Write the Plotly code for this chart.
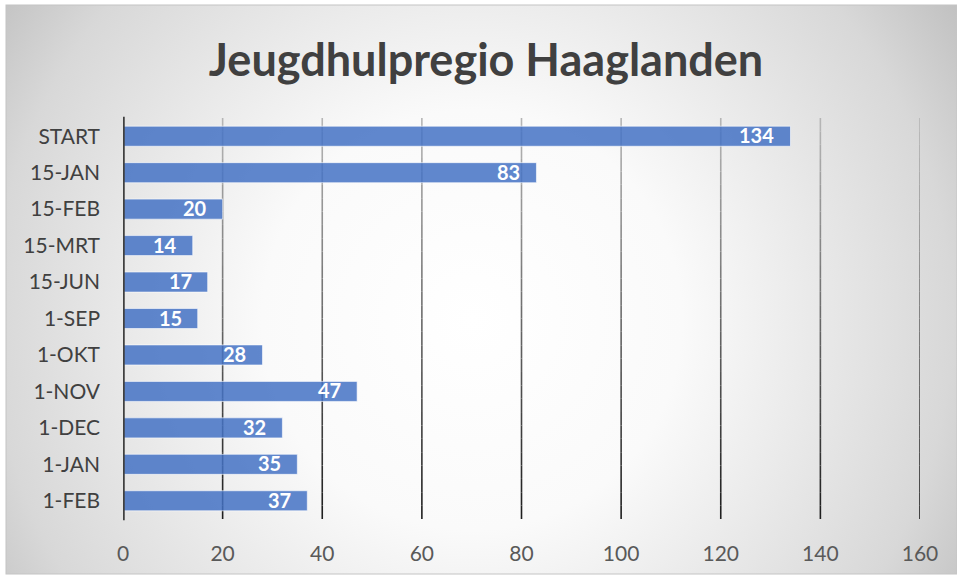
import base64
import plotly.graph_objects as go

categories = ["START", "15-JAN", "15-FEB", "15-MRT", "15-JUN", "1-SEP",
              "1-OKT", "1-NOV", "1-DEC", "1-JAN", "1-FEB"]
values = [134, 83, 20, 14, 17, 15, 28, 47, 32, 35, 37]
x_ticks = [0, 20, 40, 60, 80, 100, 120, 140, 160]
title_text = "Jeugdhulpregio Haaglanden"

W, H = 957, 578
ML, MR, MT, MB = 123, 37, 118, 59
PW, PH = W - ML - MR, H - MT - MB
FONT = "Lato, 'Open Sans', sans-serif"

svg = f'''<svg xmlns="http://www.w3.org/2000/svg" width="{W}" height="{H}" viewBox="0 0 {W} {H}">
<defs><radialGradient id="g" cx="472" cy="320" r="600" gradientUnits="userSpaceOnUse">
<stop offset="0" stop-color="#ffffff"/><stop offset="0.35" stop-color="#fafafa"/>
<stop offset="0.8" stop-color="#d8d8d8"/><stop offset="1" stop-color="#bcbcbc"/>
</radialGradient></defs>
<rect x="0" y="0" width="{W}" height="{H}" fill="#ffffff"/>
<rect x="6" y="5" width="{W-6}" height="{H-9}" fill="url(#g)" stroke="#c4c4c4" stroke-width="1"/>
</svg>'''
bg_uri = "data:image/svg+xml;base64," + base64.b64encode(svg.encode()).decode()

fig = go.Figure()
fig.add_trace(go.Bar(
    y=categories, x=values, orientation="h",
    marker=dict(color="rgba(68,114,196,0.85)", line=dict(color="rgba(255,255,255,0.6)", width=1)),
    textposition="none", hoverinfo="x+y",
))

annotations = [dict(x=v, y=c, xref="x", yref="y", text=f"<b>{v}</b>", showarrow=False,
                    xanchor="right", yanchor="middle", xshift=-14, yshift=1,
                    font=dict(family=FONT, size=20, color="white"))
               for c, v in zip(categories, values)]

# gradient gridlines (light grey at top to near-black at bottom)
shapes = []
NSEG = 30
for t in x_ticks[1:]:
    for i in range(NSEG):
        f = (i + 0.5) / NSEG  # 0 bottom -> 1 top
        g = int(round(0x1c + f * (0xb8 - 0x1c)))
        shapes.append(dict(type="line", xref="x", yref="paper", x0=t, x1=t,
                           y0=i / NSEG, y1=(i + 1) / NSEG,
                           line=dict(color=f"rgb({g},{g},{g})", width=1.6), layer="below"))
shapes.append(dict(type="line", xref="x", yref="paper", x0=0, x1=0, y0=-0.003, y1=1.003,
                   line=dict(color="#404040", width=3.5), layer="above"))

fig.update_layout(
    width=W, height=H,
    margin=dict(l=ML, r=MR, t=MT, b=MB, pad=0),
    paper_bgcolor="rgba(0,0,0,0)", plot_bgcolor="rgba(0,0,0,0)",
    bargap=0.45,
    showlegend=False,
    title=dict(text=f"<b>{title_text}</b>", x=(486 - ML) / PW, xref="paper", xanchor="center",
               y=1 - 60 / H, yanchor="middle", yref="container",
               font=dict(family=FONT, size=45, color="#404040")),
    xaxis=dict(range=[0, 160], tickvals=x_ticks, showgrid=False,
               zeroline=False, showline=False, ticks="", ticklabelstandoff=20,
               tickfont=dict(family=FONT, size=21, color="#595959")),
    yaxis=dict(autorange="reversed", showgrid=False, zeroline=False, showline=False, ticks="",
               ticklabelstandoff=22,
               tickfont=dict(family=FONT, size=21, color="#404040")),
    images=[dict(source=bg_uri, xref="paper", yref="paper",
                 x=-ML / PW, y=1 + MT / PH, sizex=W / PW, sizey=H / PH,
                 xanchor="left", yanchor="top", sizing="stretch", layer="below")],
    shapes=shapes,
    annotations=annotations,
)

fig.write_html("out.html", config={"displayModeBar": False},
               post_script="document.body.style.margin='0';document.body.style.overflow='hidden';")
